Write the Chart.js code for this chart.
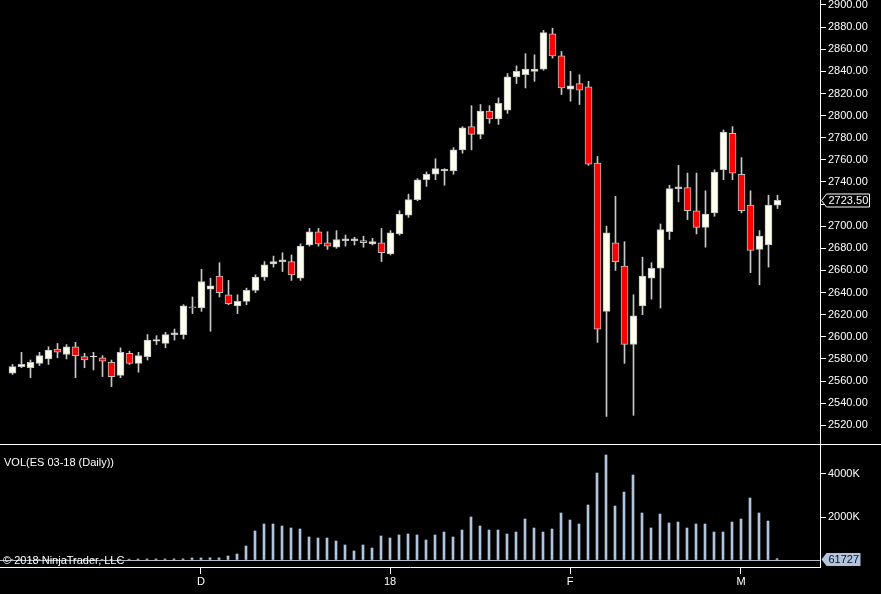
<!DOCTYPE html>
<html>
<head>
<meta charset="utf-8">
<script src="https://cdn.jsdelivr.net/npm/chart.js@4.4.1/dist/chart.umd.min.js"></script>
<style>
  html, body { margin: 0; padding: 0; background: #000; overflow: hidden; }
  #wrap { position: relative; width: 881px; height: 594px; background: #000; }
  #priceChart { position: absolute; left: 0; top: 0; }
  #volChart { position: absolute; left: 0; top: 445px; }
  .sep { position: absolute; left: 0; top: 444px; width: 881px; height: 1px; background: #fff; }
  .txt { position: absolute; color: #fff; font: 11px "Liberation Sans", Arial, sans-serif; white-space: nowrap; line-height: 13px; }
</style>
</head>
<body>
<div id="wrap">
  <canvas id="priceChart" width="881" height="444"></canvas>
  <div class="sep"></div>
  <canvas id="volChart" width="881" height="149"></canvas>
  <div class="txt" style="left:4px;top:456px">VOL(ES 03-18 (Daily))</div>
  <div class="txt" style="left:3px;top:554px">© 2018 NinjaTrader, LLC</div>
</div>
<script>
// daily bars, ES 03-18
const open = [
  2567, 2573, 2572, 2576, 2580, 2589, 2584, 2591, 2582, 2581.75,
  2581, 2577, 2565, 2585, 2576, 2582, 2596, 2594, 2602, 2602,
  2627, 2626, 2643, 2655, 2638, 2628, 2632, 2642, 2654, 2666,
  2668, 2668, 2653, 2683, 2695, 2685, 2681, 2687, 2687, 2687,
  2684, 2685, 2675, 2693, 2710, 2724, 2742, 2747, 2750, 2750,
  2769, 2790, 2783, 2804, 2797, 2805, 2835, 2837, 2840, 2842,
  2874, 2854, 2824, 2829, 2826, 2757, 2623, 2685, 2664, 2593,
  2628, 2653, 2662, 2695, 2734, 2735, 2714, 2699, 2712, 2751,
  2784, 2747, 2719, 2679, 2683, 2719
];
const high = [
  2575, 2586, 2579, 2586, 2591, 2594, 2593, 2595, 2585, 2586,
  2583, 2579, 2590, 2587, 2586, 2602, 2601, 2604, 2607, 2629,
  2636, 2661, 2653, 2667, 2651, 2638, 2644, 2656, 2668, 2673,
  2676, 2674, 2684, 2698, 2698, 2695, 2696, 2692, 2690, 2691,
  2689, 2698, 2696, 2714, 2729, 2743, 2749, 2761, 2752, 2771,
  2790, 2809, 2810, 2809, 2816, 2838, 2845, 2856, 2855, 2877,
  2879, 2858, 2840, 2837, 2831, 2763, 2700, 2727, 2686, 2638,
  2672, 2667, 2702, 2737, 2755, 2748, 2748, 2732, 2751, 2787,
  2790, 2762, 2732, 2696, 2728, 2728
];
const low = [
  2566, 2572, 2563, 2574, 2575, 2581, 2580, 2563, 2572, 2570,
  2564, 2555, 2563, 2575, 2568, 2579, 2593, 2590, 2597, 2598,
  2621, 2623, 2605, 2636, 2629, 2621, 2629, 2640, 2651, 2663,
  2659, 2651, 2651, 2682, 2682, 2679, 2680, 2682, 2683, 2681,
  2683, 2668, 2674, 2692, 2708, 2723, 2736, 2742, 2737, 2747,
  2766, 2769, 2779, 2793, 2792, 2802, 2829, 2825, 2831, 2841,
  2852, 2819, 2813, 2810, 2755, 2595, 2528, 2660, 2576, 2529,
  2620, 2634, 2626, 2688, 2722, 2706, 2693, 2681, 2709, 2742,
  2742, 2712, 2658, 2647, 2663, 2716
];
const close = [
  2573, 2575, 2577, 2583, 2588, 2586, 2591, 2583, 2579, 2582.5,
  2578, 2564, 2586, 2576, 2583, 2597, 2597.5, 2602, 2603.5, 2628,
  2626, 2650, 2646, 2640, 2630, 2632, 2642, 2654, 2665, 2668,
  2669.5, 2656, 2682, 2695, 2684, 2682, 2688, 2688.5, 2688.5, 2685,
  2686, 2676, 2694, 2711, 2724, 2742, 2747, 2752, 2751.5, 2769,
  2789, 2783, 2804, 2797, 2811, 2835, 2840, 2842, 2842, 2875,
  2854, 2825, 2827, 2823, 2756, 2607, 2694, 2668, 2593, 2619,
  2655, 2662, 2697, 2734, 2735.5, 2714, 2699, 2711, 2749, 2785,
  2748, 2714, 2678, 2691, 2719, 2723.5
];
const volume = [
  18000, 20000, 22000, 19000, 24000, 26000, 23000, 28000, 25000, 27000,
  30000, 32000, 35000, 38000, 45000, 48000, 50000, 47000, 52000, 55000,
  93000, 95000, 100000, 98000, 186000, 279000, 651000, 1349000, 1674000, 1674000,
  1581000, 1488000, 1442000, 1070000, 1023000, 1023000, 884000, 698000, 419000, 698000,
  558000, 1116000, 1023000, 1163000, 1209000, 1163000, 930000, 1163000, 1302000, 1070000,
  1395000, 2000000, 1581000, 1395000, 1395000, 1209000, 1302000, 1906000, 1488000, 1302000,
  1442000, 2186000, 1860000, 1674000, 2558000, 4046000, 4883000, 2511000, 3162000, 3953000,
  2186000, 1488000, 2139000, 1720000, 1767000, 1488000, 1674000, 1674000, 1302000, 1302000,
  1767000, 1906000, 2883000, 2186000, 1813000, 61727
];

const priceTicks = [2520, 2540, 2560, 2580, 2600, 2620, 2640, 2660, 2680, 2700,
  2720, 2740, 2760, 2780, 2800, 2820, 2840, 2860, 2880, 2900];
const volTicks = [0, 2000000, 4000000];
const volTickLabels = ['', '2000K', '4000K'];
const monthIdx = [21, 42, 62, 81];
const monthLabels = ['D', '18', 'F', 'M'];

const FONT = '"Liberation Sans", Arial, sans-serif';
Chart.defaults.font.family = FONT;
Chart.defaults.font.size = 11;
Chart.defaults.color = '#ffffff';

const idx = open.map((_, i) => i);
const last = idx.length - 1;

// tag on the right axis showing last value
const lastMarker = {
  id: 'lastMarker',
  afterDraw(chart, args, opts) {
    const s = chart.scales.y;
    const ctx = chart.ctx;
    const y = Math.round(s.getPixelForValue(opts.value)) + 0.5;
    const x = s.left + 1.5;
    ctx.save();
    ctx.beginPath();
    ctx.moveTo(x, y);
    ctx.lineTo(x + 5, y - 6.5);
    ctx.lineTo(x + opts.w, y - 6.5);
    ctx.lineTo(x + opts.w, y + 6.5);
    ctx.lineTo(x + 5, y + 6.5);
    ctx.closePath();
    ctx.fillStyle = opts.bg;
    ctx.fill();
    if (opts.border) {
      ctx.strokeStyle = opts.border;
      ctx.lineWidth = 1;
      ctx.stroke();
    }
    ctx.fillStyle = opts.fg;
    ctx.font = '11px ' + FONT;
    ctx.textBaseline = 'middle';
    ctx.textAlign = 'left';
    ctx.fillText(opts.text, x + 7, y + 0.5);
    ctx.restore();
  }
};

const fitRight = (s) => { s.width = 61; s.paddingTop = 0; s.paddingBottom = 0; };

new Chart(document.getElementById('priceChart'), {
  type: 'bar',
  data: {
    datasets: [
      {
        data: idx.map(i => ({ x: i, y: [open[i], close[i]] })),
        backgroundColor: idx.map(i => close[i] >= open[i] ? '#fffff0' : '#ff0000'),
        borderColor: '#c0c0c0',
        borderWidth: 1,
        borderSkipped: false,
        barThickness: 7,
        grouped: false,
        order: 0
      },
      {
        data: idx.map(i => ({ x: i, y: [low[i], high[i]] })),
        backgroundColor: '#c8c8c8',
        borderWidth: 0,
        barThickness: 1,
        grouped: false,
        order: 1
      }
    ]
  },
  options: {
    responsive: false,
    animation: false,
    devicePixelRatio: 1,
    events: [],
    layout: { padding: 0 },
    plugins: {
      legend: { display: false },
      tooltip: { enabled: false },
      lastMarker: {
        value: close[last], text: close[last].toFixed(2), w: 48,
        bg: '#000000', border: '#ffffff', fg: '#ffffff'
      }
    },
    scales: {
      x: {
        type: 'linear', display: false, offset: false,
        min: -12.5 / 9, max: -12.5 / 9 + 820 / 9,
        grid: { offset: false }
      },
      y: {
        position: 'right',
        min: 2503.07,
        max: 2904.52,
        afterBuildTicks: (s) => { s.ticks = priceTicks.map(v => ({ value: v })); },
        afterFit: fitRight,
        ticks: { callback: (v) => v.toFixed(2), padding: 2, color: '#ffffff' },
        grid: { drawOnChartArea: false, tickLength: 6, color: '#ffffff' },
        border: { display: true, color: '#ffffff' }
      }
    }
  },
  plugins: [lastMarker]
});

new Chart(document.getElementById('volChart'), {
  type: 'bar',
  data: {
    datasets: [{
      data: idx.map(i => ({ x: i, y: volume[i] })),
      backgroundColor: '#b0c4de',
      borderWidth: 0,
      barThickness: 2
    }]
  },
  options: {
    responsive: false,
    animation: false,
    devicePixelRatio: 1,
    events: [],
    layout: { padding: 0 },
    plugins: {
      legend: { display: false },
      tooltip: { enabled: false },
      lastMarker: {
        value: volume[last], text: String(volume[last]), w: 39,
        bg: '#b0c4de', border: null, fg: '#101018'
      }
    },
    scales: {
      x: {
        type: 'linear',
        offset: false,
        min: -12 / 9,
        max: -12 / 9 + 820 / 9,
        afterBuildTicks: (s) => { s.ticks = monthIdx.map(v => ({ value: v })); },
        afterFit: (s) => { s.height = 27; s.paddingLeft = 0; s.paddingRight = 0; },
        ticks: {
          callback: (v) => monthLabels[monthIdx.indexOf(v)],
          autoSkip: false, maxRotation: 0, padding: 1, color: '#ffffff'
        },
        grid: { drawOnChartArea: false, offset: false, tickLength: 7, color: '#ffffff' },
        border: { display: true, color: '#ffffff' }
      },
      y: {
        position: 'right',
        min: -325581,
        max: 5348837,
        afterBuildTicks: (s) => { s.ticks = volTicks.map(v => ({ value: v })); },
        afterFit: fitRight,
        ticks: { callback: (v, i) => volTickLabels[i], padding: 2, color: '#ffffff' },
        grid: {
          drawOnChartArea: true,
          tickLength: 6,
          color: (c) => (c.tick && c.tick.value === 0) ? '#b0bccc' : 'rgba(0,0,0,0)',
          tickColor: (c) => (c.tick && c.tick.value === 0) ? 'rgba(0,0,0,0)' : '#ffffff'
        },
        border: { display: true, color: '#ffffff' }
      }
    }
  },
  plugins: [lastMarker]
});
</script>
</body>
</html>
